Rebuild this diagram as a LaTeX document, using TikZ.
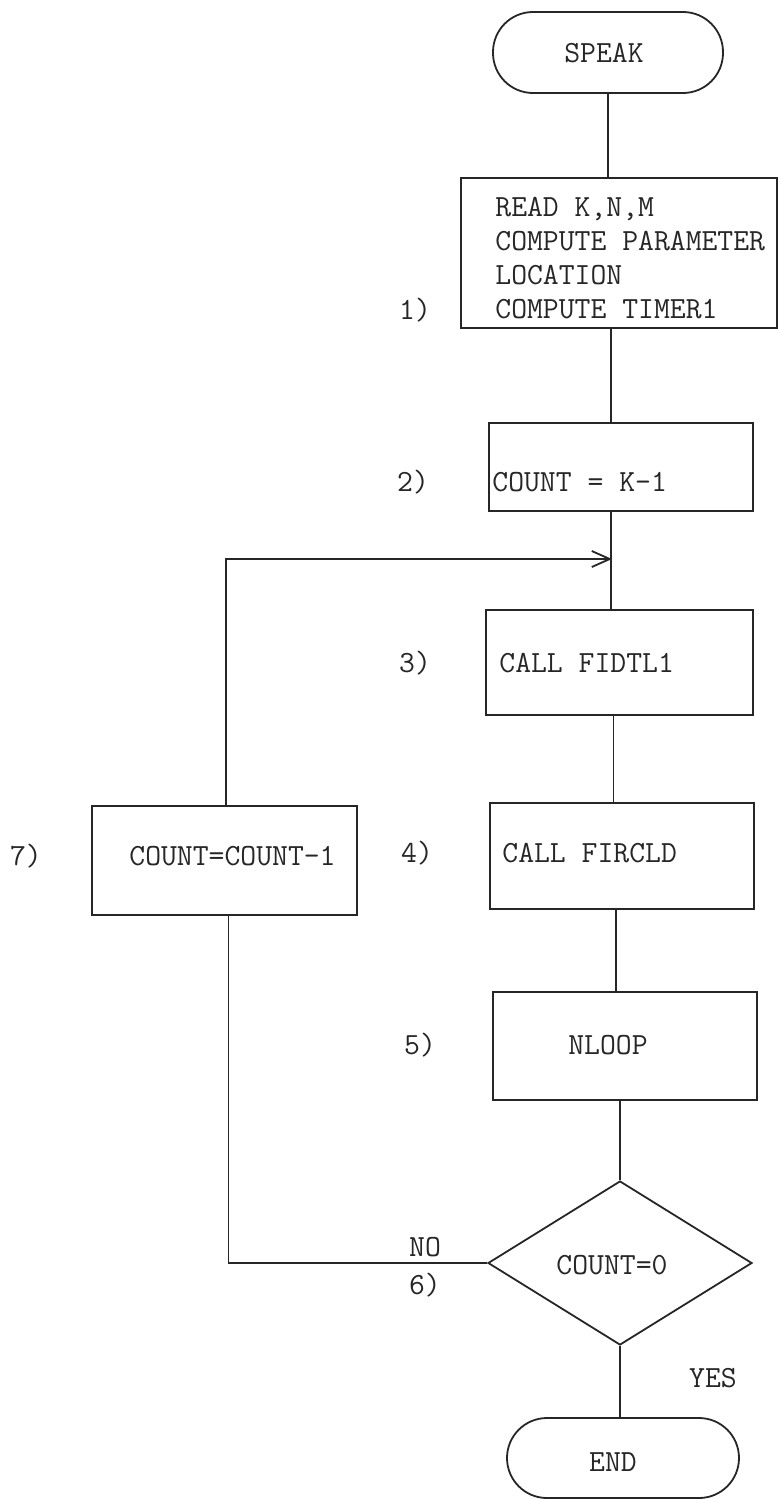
\documentclass[tikz,border=0pt]{standalone}
\usepackage{fontspec}
\setmonofont{Latin Modern Mono}
\usetikzlibrary{shapes.geometric,arrows.meta,calc}
\begin{document}
\begin{tikzpicture}[x=0.5pt,y=-0.5pt,
  line/.style={draw=black!85, line width=0.9pt},
  box/.style={rectangle, draw=black!85, line width=0.9pt, inner sep=0pt},
  term/.style={box, rounded corners=20pt},
  lbl/.style={inner sep=0pt, font=\ttfamily\fontsize{15.4pt}{17pt}\selectfont, text=black!85},
  ltxt/.style={lbl, anchor=west, align=left}
]
\useasboundingbox (0,0) rectangle (779,1499);

% shapes
\node[term, minimum width=115pt, minimum height=40.5pt] (start) at (608,52.5) {};
\node[box, minimum width=158pt, minimum height=75pt] (b1) at (619,253) {};
\node[box, minimum width=132pt, minimum height=44pt] (b2) at (621,467) {};
\node[box, minimum width=133.5pt, minimum height=52.5pt] (b3) at (619.5,662.5) {};
\node[box, minimum width=132pt, minimum height=53pt] (b4) at (622,856) {};
\node[box, minimum width=132pt, minimum height=54pt] (b5) at (625,1046) {};
\node[box, minimum width=132.5pt, minimum height=54.5pt] (b7) at (224.5,860.5) {};
\node[diamond, draw=black!85, line width=0.9pt, inner sep=0pt, minimum width=132pt, minimum height=82pt] (d) at (620,1263) {};
\node[term, minimum width=116pt, minimum height=40pt] (stop) at (623,1458) {};
\coordinate (m) at (612,559);

% texts
\node[lbl] (tstart) at (604,53) {SPEAK};
\node[ltxt] (t1) at (495,258.5) {READ K,N,M\\COMPUTE PARAMETER\\LOCATION\\COMPUTE TIMER1};
\node[ltxt] (t2) at (492,482) {COUNT = K-1};
\node[ltxt] (t3) at (499,663) {CALL FIDTL1};
\node[ltxt] (t4) at (502,853) {CALL FIRCLD};
\node[lbl] (t5) at (608,1045) {NLOOP};
\node[ltxt] (t7) at (129,856) {COUNT=COUNT-1};
\node[lbl] (t6) at (612,1265) {COUNT=0};
\node[lbl] (tstop) at (613,1462) {END};

% step numbers and branch labels
\node[lbl] (n1) at (415,310) {1)};
\node[lbl] (n2) at (413,482) {2)};
\node[lbl] (n3) at (415,663) {3)};
\node[lbl] (n4) at (417,853) {4)};
\node[lbl] (n5) at (420,1045) {5)};
\node[lbl] (n6) at (425,1285) {6)};
\node[lbl] (n7) at (26,856) {7)};
\node[lbl] (no) at (425,1247) {NO};
\node[lbl] (yes) at (713,1378) {YES};

% connectors
\draw[line] (start.south) -- (start.south |- b1.north);
\draw[line] ([xshift=-4pt]b1.south) -- ([xshift=-4pt]b1.south |- b2.north);
\draw[line] ([xshift=-5pt]b2.south) -- ([xshift=-5pt]b2.south |- b3.north);
\draw[line] ([xshift=-3pt]b3.south) -- ([xshift=-3pt]b3.south |- b4.north);
\draw[line] ([xshift=-3pt]b4.south) -- ([xshift=-3pt]b4.south |- b5.north);
\draw[line] (d.north |- b5.south) -- (d.north);
\draw[line] (d.south) -- (d.south |- stop.north);
\draw[line] (d.west) -| ([xshift=2pt]b7.south);
\draw[line, -{Straight Barb[length=9pt,width=8pt,line width=0.9pt]}] ([xshift=0.75pt]b7.north) |- (m);
\end{tikzpicture}
\end{document}
